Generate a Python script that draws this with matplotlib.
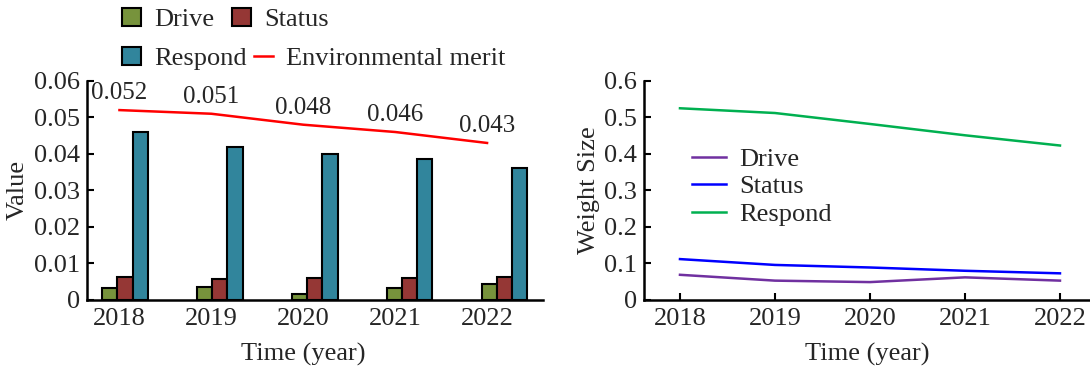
import matplotlib
matplotlib.use("Agg")
import matplotlib.pyplot as plt
from matplotlib.patches import Patch
from matplotlib.lines import Line2D
import numpy as np

plt.rcParams['font.family'] = ['Liberation Serif', 'DejaVu Serif']
plt.rcParams['font.size'] = 19
plt.rcParams['text.color'] = '#262626'
plt.rcParams['axes.labelcolor'] = '#262626'
plt.rcParams['xtick.color'] = 'black'
plt.rcParams['ytick.color'] = 'black'
plt.rcParams['xtick.labelcolor'] = '#262626'
plt.rcParams['ytick.labelcolor'] = '#262626'

years = ['2018', '2019', '2020', '2021', '2022']

# left panel: index values per year
drive_val = [0.0034, 0.0036, 0.0016, 0.0034, 0.0045]
status_val = [0.0064, 0.0057, 0.0059, 0.0059, 0.0062]
respond_val = [0.0461, 0.0420, 0.0400, 0.0385, 0.0362]
merit = [0.052, 0.051, 0.048, 0.046, 0.043]
left_yticks = [0, 0.01, 0.02, 0.03, 0.04, 0.05, 0.06]
left_ylabels = ['0', '0.01', '0.02', '0.03', '0.04', '0.05', '0.06']

# right panel: weights per year
drive_w = [0.069, 0.053, 0.049, 0.062, 0.053]
status_w = [0.112, 0.096, 0.089, 0.080, 0.073]
respond_w = [0.525, 0.512, 0.482, 0.451, 0.423]
right_yticks = [0, 0.1, 0.2, 0.3, 0.4, 0.5, 0.6]
right_ylabels = ['0', '0.1', '0.2', '0.3', '0.4', '0.5', '0.6']

c_drive = '#77933C'
c_status = '#953735'
c_respond = '#31859C'

fig = plt.figure(figsize=(10.9, 3.71), dpi=100)

ax1 = fig.add_axes([0.0795, 0.1914, 0.4186, 0.5906])
x = np.arange(len(years))

# bars sit on their own category scale, the merit line on the main one
axb = ax1.twiny()
w = 0.16
axb.bar(x - w, drive_val, w, color=c_drive, edgecolor='black', linewidth=1.5)
axb.bar(x, status_val, w, color=c_status, edgecolor='black', linewidth=1.5)
axb.bar(x + w, respond_val, w, color=c_respond, edgecolor='black', linewidth=1.5)
axb.set_xlim(-0.404, 4.405)
axb.set_xticks([])
for s in axb.spines.values():
    s.set_visible(False)

ax1.plot(x, merit, color='#FF0000', lw=1.8, zorder=5)
for xi, v in zip(x, merit):
    ax1.annotate(f'{v:.3f}', (xi, v), xytext=(0, 12), textcoords='offset points',
                 ha='center', va='center', fontsize=18)
ax1.set_xlim(-0.357, 4.608)
ax1.set_ylim(0, 0.06)
ax1.set_xticks(x)
ax1.set_xticklabels(years)
ax1.set_yticks(left_yticks)
ax1.set_yticklabels(left_ylabels)
ax1.tick_params(axis='x', length=0, pad=6)
ax1.tick_params(axis='y', direction='in', length=5, width=1.5, pad=5)
ax1.spines['top'].set_visible(False)
ax1.spines['right'].set_visible(False)
ax1.spines['left'].set_linewidth(1.8)
ax1.spines['bottom'].set_linewidth(1.8)
ax1.set_xlabel('Time (year)')
ax1.xaxis.set_label_coords(0.474, -0.195)
ax1.set_ylabel('Value')
ax1.yaxis.set_label_coords(-0.126, 0.5)
ax1.set_zorder(axb.get_zorder() + 1)
ax1.patch.set_visible(False)

row1 = [Patch(facecolor=c_drive, edgecolor='black', lw=1.5, label='Drive'),
        Patch(facecolor=c_status, edgecolor='black', lw=1.5, label='Status')]
row2 = [Patch(facecolor=c_respond, edgecolor='black', lw=1.5, label='Respond'),
        Line2D([], [], color='#FF0000', lw=1.8, label='Environmental merit')]
fig.legend(handles=row1, loc='center left', bbox_to_anchor=(0.112, 0.948),
           ncol=2, frameon=False, borderpad=0, borderaxespad=0,
           handlelength=0.7, handleheight=0.7, handletextpad=0.5,
           columnspacing=0.7)
fig.legend(handles=row2, loc='center left', bbox_to_anchor=(0.112, 0.843),
           ncol=2, frameon=False, borderpad=0, borderaxespad=0,
           handlelength=0.7, handleheight=0.7, handletextpad=0.5,
           columnspacing=0.3)

ax2 = fig.add_axes([0.5908, 0.1914, 0.4092, 0.5906])
ax2.plot(x, drive_w, color='#7030A0', lw=1.8, label='Drive')
ax2.plot(x, status_w, color='#0000FF', lw=1.8, label='Status')
ax2.plot(x, respond_w, color='#00B050', lw=1.8, label='Respond')
ax2.set_xlim(-0.379, 4.316)
ax2.set_ylim(0, 0.6)
ax2.set_xticks(x)
ax2.set_xticklabels(years)
ax2.set_yticks(right_yticks)
ax2.set_yticklabels(right_ylabels)
ax2.tick_params(axis='x', direction='in', length=5, width=1.5, pad=6)
ax2.tick_params(axis='y', direction='in', length=5, width=1.5, pad=5)
ax2.spines['top'].set_visible(False)
ax2.spines['right'].set_visible(False)
ax2.spines['left'].set_linewidth(1.8)
ax2.spines['bottom'].set_linewidth(1.8)
ax2.set_xlabel('Time (year)')
ax2.xaxis.set_label_coords(0.5, -0.195)
ax2.set_ylabel('Weight Size')
ax2.yaxis.set_label_coords(-0.099, 0.5)
ax2.legend(loc='center left', bbox_to_anchor=(0.107, 0.517), frameon=False,
           borderpad=0, borderaxespad=0, handlelength=1.3, handletextpad=0.5,
           labelspacing=0.15)

fig.savefig('out.png', dpi=100)
